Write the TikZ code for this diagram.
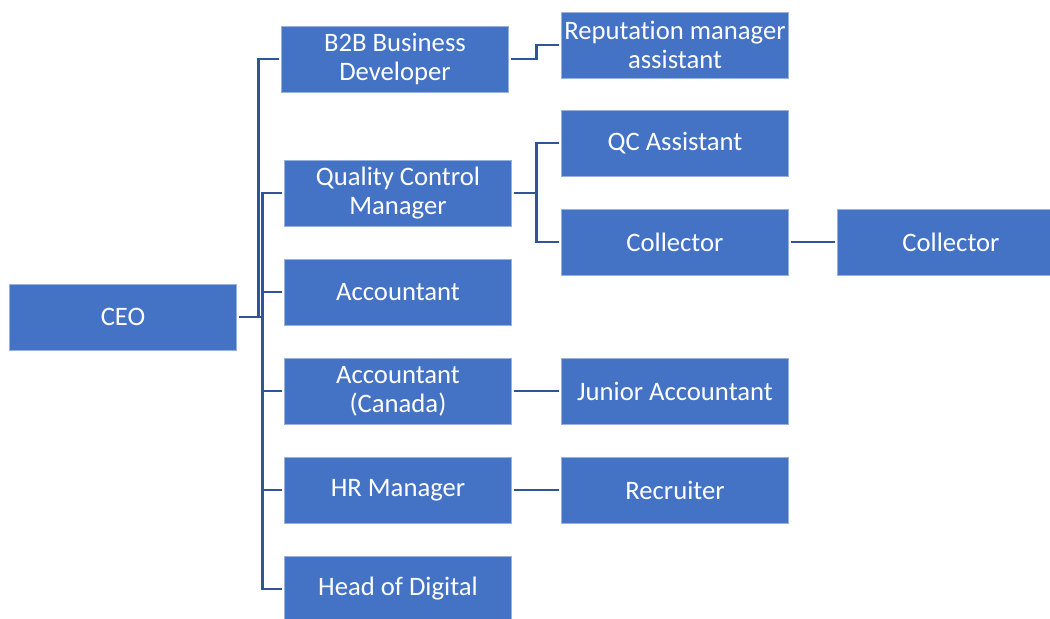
\documentclass[tikz,border=0pt]{standalone}
\usepackage{fontspec}
\setmainfont{Carlito}[Ligatures=CommonOff]
\usepackage{tikz}
\usetikzlibrary{positioning}

\definecolor{boxblue}{HTML}{4472C4}
\definecolor{lineblue}{HTML}{2F5597}

\begin{document}
\begin{tikzpicture}[x=0.75pt,y=-0.75pt,
    role/.style={rectangle,draw=boxblue!55!white,line width=0.6pt,fill=boxblue,text=white,
      minimum width=170pt,minimum height=49.5pt,align=center,inner sep=1pt,
      font=\fontsize{20}{22}\selectfont},
    link/.style={draw=lineblue,line width=2.2pt,shorten <=2pt,shorten >=2pt}]
    \useasboundingbox (0,0) rectangle (1050,618);

    % first level
    \node[role] (ceo) at (123,317) {CEO};
    \node[role] (b2b) at (395,59) {B2B Business\\Developer};
    \node[role] (qcm) at (398,193) {Quality Control\\Manager};
    \node[role] (acc) at (398,292) {Accountant};
    \node[role] (acca) at (398,391) {Accountant\\(Canada)};
    \node[role] (hrm) at (398,490) {HR Manager};
    \node[role] (hod) at (398,589) {Head of Digital};

    % second level
    \node[role] (rep) at (675,45) {Reputation manager\\assistant};
    \node[role] (qca) at (675,143) {QC Assistant};
    \node[role] (col) at (675,242) {Collector};
    \node[role] (col2) at (951,242) {Collector};
    \node[role] (jac) at (675,391) {Junior Accountant};
    \node[role] (rec) at (675,490) {Recruiter};

    % CEO to first level
    \draw[link] (ceo.east) -- ++(22,0) |- (b2b.west);
    \foreach \n in {qcm,acc,acca,hrm,hod}
      \draw[link] (ceo.east) -- ++(26,0) |- (\n.west);

    % first level to second level
    \draw[link] (b2b.east) -- ++(28,0) |- (rep.west);
    \draw[link] (qcm.east) -- ++(25,0) |- (qca.west);
    \draw[link] (qcm.east) -- ++(25,0) |- (col.west);
    \draw[link] (col) -- (col2);
    \draw[link] (acca) -- (jac);
    \draw[link] (hrm) -- (rec);
\end{tikzpicture}
\end{document}
